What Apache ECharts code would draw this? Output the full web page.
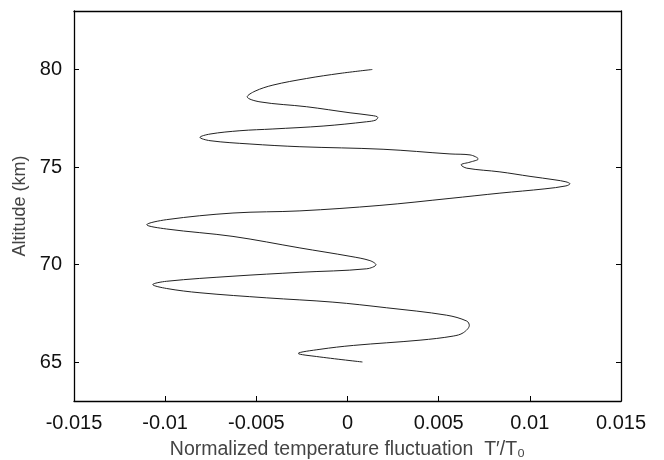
<!DOCTYPE html>
<html>
<head>
<meta charset="utf-8">
<script src="https://cdn.jsdelivr.net/npm/echarts@6/dist/echarts.min.js"></script>
<style>html,body{margin:0;padding:0;background:#fff}#c{width:664px;height:460px}</style>
</head>
<body>
<div id="c"></div>
<script>
// Normalized temperature fluctuation (x) along the profile, in path order
var fluctuation = [0.00136,-0.00041,-0.00224,-0.00409,-0.00507,-0.00550,-0.00480,-0.00224,0.00014,0.00134,
  0.00166,0.00156,0.00105,-0.00134,-0.00409,-0.00590,-0.00754,-0.00809,-0.00754,-0.00535,
  -0.00261,0.00195,0.00562,0.00672,0.00717,0.00672,0.00623,0.00654,0.00836,0.01001,
  0.01138,0.01198,0.01220,0.01198,0.01083,0.00836,0.00562,0.00178,-0.00261,-0.00628,
  -0.00992,-0.01101,-0.00992,-0.00628,-0.00261,0.00014,0.00123,0.00156,0.00105,-0.00261,
  -0.00628,-0.00992,-0.01068,-0.00992,-0.00809,-0.00443,-0.00080,0.00215,0.00544,0.00654,
  0.00668,0.00635,0.00580,0.00398,0.00032,-0.00151,-0.00270,-0.00169,0.00082];
// Altitude (km), matching each fluctuation value
var altitude = [80.00,79.80,79.54,79.20,78.89,78.60,78.34,78.09,77.78,77.64,
  77.55,77.41,77.32,77.10,76.95,76.86,76.69,76.52,76.35,76.18,
  76.04,75.91,75.67,75.62,75.41,75.25,75.11,74.94,74.75,74.52,
  74.34,74.24,74.14,74.03,73.88,73.66,73.39,73.03,72.75,72.64,
  72.30,72.04,71.82,71.44,70.85,70.42,70.20,69.99,69.78,69.60,
  69.40,69.14,68.97,68.77,68.55,68.29,68.07,67.78,67.40,67.10,
  66.88,66.50,66.33,66.12,65.85,65.65,65.44,65.28,65.00];
var xTicks = [-0.015,-0.01,-0.005,0,0.005,0.01,0.015];
var yTicks = [65,70,75,80];

var pts = fluctuation.map(function(v,i){return [v, altitude[i]];});
var chart = echarts.init(document.getElementById('c'));
var fontTick = "'Liberation Sans', Arial, sans-serif";
var fontName = "'Liberation Sans', Arial, sans-serif";
function line(){ return {show:true, onZero:false, lineStyle:{color:'#000', width:1.3}}; }
function fmt(v){ return String(Math.round(v*1000)/1000); }
chart.setOption({
  animation:false,
  backgroundColor:'#fff',
  grid:{left:74, right:43, top:11, bottom:59, containLabel:false, outerBoundsMode:'none'},
  xAxis:[{
    type:'value', min:-0.015, max:0.015, interval:0.005, position:'bottom',
    axisLine:line(),
    axisTick:{show:true, inside:true, length:5, lineStyle:{color:'#000'}, customValues:xTicks},
    splitLine:{show:false},
    axisLabel:{color:'#111', fontSize:20, fontFamily:fontTick, margin:12, customValues:xTicks, formatter:fmt},
    name:'Normalized temperature fluctuation  T\u2032/T\u2080',
    nameLocation:'middle', nameGap:39,
    nameTextStyle:{color:'#444', fontSize:19.5, fontFamily:fontName}
  },{
    type:'value', min:-0.015, max:0.015, interval:0.005, position:'top',
    axisLine:line(), axisTick:{show:false}, axisLabel:{show:false}, splitLine:{show:false}
  }],
  yAxis:[{
    type:'value', min:63, max:83, interval:5, position:'left',
    axisLine:line(),
    axisTick:{show:true, inside:true, length:5, lineStyle:{color:'#000'}, customValues:yTicks},
    axisLabel:{color:'#111', fontSize:20, fontFamily:fontTick, margin:12, customValues:yTicks},
    splitLine:{show:false},
    name:'Altitude (km)', nameLocation:'middle', nameGap:44,
    nameTextStyle:{color:'#444', fontSize:18, fontFamily:fontName}
  },{
    type:'value', min:63, max:83, interval:5, position:'right',
    axisLine:line(),
    axisTick:{show:true, inside:true, length:5, lineStyle:{color:'#000'}, customValues:yTicks},
    axisLabel:{show:false}, splitLine:{show:false}
  }],
  series:[{
    type:'line', data:pts, smooth:0.35, showSymbol:false, symbol:'none',
    lineStyle:{color:'#222', width:1}
  }]
});
</script>
</body>
</html>
